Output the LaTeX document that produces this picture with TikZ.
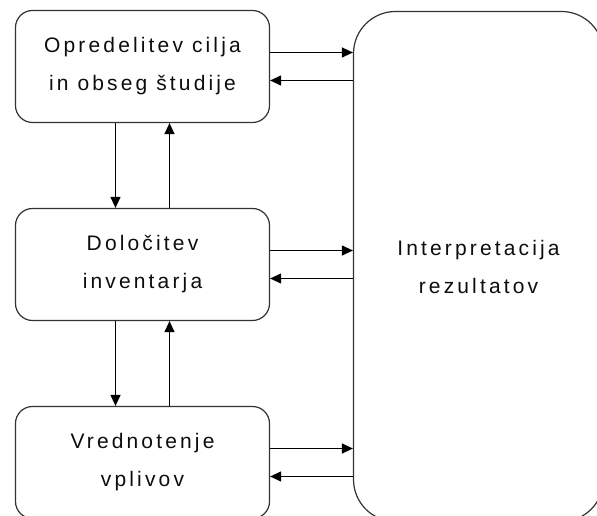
\documentclass[tikz,border=0pt]{standalone}
\usepackage{fontspec}
\newfontfamily\boxfont[LetterSpace=15]{Liberation Sans}
\usetikzlibrary{arrows.meta}
\begin{document}
\begin{tikzpicture}[x=1bp,y=-1bp,
  stage/.style={draw=black!80, line width=1.2bp, rounded corners=17bp,
    minimum width=254bp, minimum height=112bp, align=center,
    font=\boxfont\fontsize{21bp}{38bp}\selectfont, text=black!95},
  bigstage/.style={stage, rounded corners=42bp, minimum width=250bp, minimum height=510bp},
  flow/.style={line width=1.2bp, -{Triangle[length=11bp,width=10bp]}}
]
\clip (0,0) rectangle (597,516);
\node[stage] (goal) at (142.5,66.5) {Opredelitev cilja\\in obseg študije};
\node[stage] (inv) at (142.5,264.5) {Določitev\\inventarja};
\node[stage] (imp) at (142.5,462.5) {Vrednotenje\\vplivov};
\node[bigstage] (interp) at (478.5,266.5) {Interpretacija\\rezultatov};
% exchanges with the interpretation phase
\foreach \n in {goal,inv,imp}{
  \draw[flow] ([yshift=14bp]\n.east) -- ([yshift=14bp]\n.east -| interp.west);
  \draw[flow] ([yshift=-14bp]\n.east -| interp.west) -- ([yshift=-14bp]\n.east);
}
% iterations between successive phases
\draw[flow] ([xshift=-27bp]goal.south) -- ([xshift=-27bp]inv.north);
\draw[flow] ([xshift=27bp]inv.north) -- ([xshift=27bp]goal.south);
\draw[flow] ([xshift=-27bp]inv.south) -- ([xshift=-27bp]imp.north);
\draw[flow] ([xshift=27bp]imp.north) -- ([xshift=27bp]inv.south);
\end{tikzpicture}
\end{document}
